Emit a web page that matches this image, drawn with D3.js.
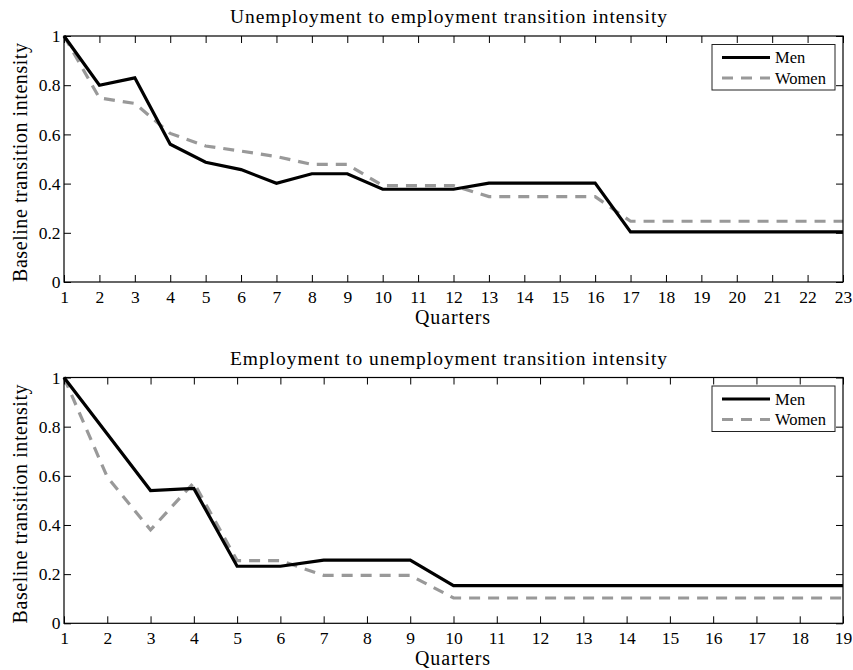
<!DOCTYPE html>
<html>
<head>
<meta charset="utf-8">
<script src="https://cdn.jsdelivr.net/npm/d3@7"></script>
<style>
  html, body { margin: 0; padding: 0; background: #fff; }
</style>
</head>
<body>
<svg id="chart" width="853" height="670" font-family="'Liberation Serif', 'Times New Roman', serif"></svg>
<script>
// ---------- Data ----------
const seriesNames = ["Men", "Women"];
const yTicks = [0, 0.2, 0.4, 0.6, 0.8, 1];

const uQuarters = d3.range(1, 24); // 1..23
const uMen   = [1.0, 0.80, 0.83, 0.56, 0.487, 0.457, 0.401, 0.44, 0.44, 0.377, 0.377, 0.377, 0.402, 0.402, 0.402, 0.402, 0.204, 0.204, 0.204, 0.204, 0.204, 0.204, 0.204];
const uWomen = [1.0, 0.748, 0.726, 0.604, 0.553, 0.532, 0.51, 0.478, 0.478, 0.392, 0.392, 0.392, 0.347, 0.347, 0.347, 0.347, 0.247, 0.247, 0.247, 0.247, 0.247, 0.247, 0.247];

const eQuarters = d3.range(1, 20); // 1..19
const eMen   = [1.0, 0.77, 0.54, 0.549, 0.232, 0.232, 0.257, 0.257, 0.257, 0.153, 0.153, 0.153, 0.153, 0.153, 0.153, 0.153, 0.153, 0.153, 0.153];
const eWomen = [1.0, 0.595, 0.38, 0.572, 0.255, 0.255, 0.195, 0.195, 0.195, 0.103, 0.103, 0.103, 0.103, 0.103, 0.103, 0.103, 0.103, 0.103, 0.103];

const titles = ["Unemployment to employment transition intensity", "Employment to unemployment transition intensity"];
const xLabel = "Quarters";
const yLabel = "Baseline transition intensity";

// ---------- Layout ----------
const FONT = "'Liberation Serif', 'Times New Roman', serif";
const svg = d3.select("#chart");
const left = 64, right = 843;
const panels = [
  { top: 36,    bottom: 282,   quarters: uQuarters, men: uMen, women: uWomen, title: titles[0] },
  { top: 377.5, bottom: 623.3, quarters: eQuarters, men: eMen, women: eWomen, title: titles[1] }
];

const styles = {
  Men:   { stroke: "#000000", width: 3.2, dash: null },
  Women: { stroke: "#999999", width: 3.2, dash: "11,8" }
};

const yFmt = d => (d === 0 ? "0" : d === 1 ? "1" : d3.format(".1f")(d));

panels.forEach(p => {
  const g = svg.append("g");
  const x = d3.scaleLinear().domain([p.quarters[0], p.quarters[p.quarters.length - 1]]).range([left, right]);
  const y = d3.scaleLinear().domain([0, 1]).range([p.bottom, p.top]);

  const lineGen = d3.line().x(d => x(d[0])).y(d => y(d[1]));
  [["Women", p.women], ["Men", p.men]].forEach(([name, vals]) => {
    const pts = p.quarters.map((q, i) => [q, vals[i]]);
    const st = styles[name];
    g.append("path")
      .datum(pts)
      .attr("d", lineGen)
      .attr("fill", "none")
      .attr("stroke", st.stroke)
      .attr("stroke-width", st.width)
      .attr("stroke-linejoin", "miter")
      .attr("stroke-dasharray", st.dash);
  });

  const tickLen = 7;
  const xb = g.append("g").attr("transform", `translate(0,${p.bottom})`)
    .call(d3.axisBottom(x).tickValues(p.quarters).tickFormat(d3.format("d")).tickSizeInner(-tickLen).tickSizeOuter(0).tickPadding(8.5));
  const xt = g.append("g").attr("transform", `translate(0,${p.top})`)
    .call(d3.axisTop(x).tickValues(p.quarters).tickFormat("").tickSizeInner(-tickLen).tickSizeOuter(0));
  const yl = g.append("g").attr("transform", `translate(${left},0)`)
    .call(d3.axisLeft(y).tickValues(yTicks).tickFormat(yFmt).tickSizeInner(-tickLen).tickSizeOuter(0).tickPadding(3.5));
  const yr = g.append("g").attr("transform", `translate(${right},0)`)
    .call(d3.axisRight(y).tickValues(yTicks).tickFormat("").tickSizeInner(-tickLen).tickSizeOuter(0));
  [xb, xt, yl, yr].forEach(a => {
    a.attr("font-family", FONT).attr("font-size", 17.5);
    a.select(".domain").remove();
    a.selectAll("line").attr("stroke", "#000").attr("stroke-width", 1);
    a.selectAll("text").attr("fill", "#000");
  });

  g.append("rect")
    .attr("x", left).attr("y", p.top)
    .attr("width", right - left).attr("height", p.bottom - p.top)
    .attr("fill", "none").attr("stroke", "#000").attr("stroke-width", 1.2);

  g.append("text")
    .attr("x", 230).attr("y", p.top - 13)
    .attr("font-family", FONT).attr("font-size", 19.5)
    .attr("textLength", 437).attr("lengthAdjust", "spacing")
    .text(p.title);

  g.append("text")
    .attr("x", 452.5).attr("y", p.bottom + 42)
    .attr("text-anchor", "middle")
    .attr("font-family", FONT).attr("font-size", 20)
    .attr("textLength", 75).attr("lengthAdjust", "spacing")
    .text(xLabel);

  const cy = (p.top + 7 + p.bottom) / 2;
  g.append("text")
    .attr("transform", `translate(27,${cy}) rotate(-90)`)
    .attr("text-anchor", "middle")
    .attr("font-family", FONT).attr("font-size", 20)
    .attr("textLength", 239).attr("lengthAdjust", "spacing")
    .text(yLabel);

  const lx = 712, ly = p.top + 8.5, lw = 123, lh = 45.5;
  const leg = g.append("g");
  leg.append("rect").attr("x", lx).attr("y", ly).attr("width", lw).attr("height", lh)
    .attr("fill", "#fff").attr("stroke", "#222").attr("stroke-width", 1);
  seriesNames.forEach((name, i) => {
    const yy = ly + 13 + i * 20.5;
    const st = styles[name];
    leg.append("line").attr("x1", lx + 10).attr("x2", lx + 58).attr("y1", yy).attr("y2", yy)
      .attr("stroke", st.stroke).attr("stroke-width", st.width).attr("stroke-dasharray", st.dash);
    leg.append("text").attr("x", lx + 63).attr("y", yy + 5.5)
      .attr("font-family", FONT).attr("font-size", 16.5).text(name);
  });
});
</script>
</body>
</html>
